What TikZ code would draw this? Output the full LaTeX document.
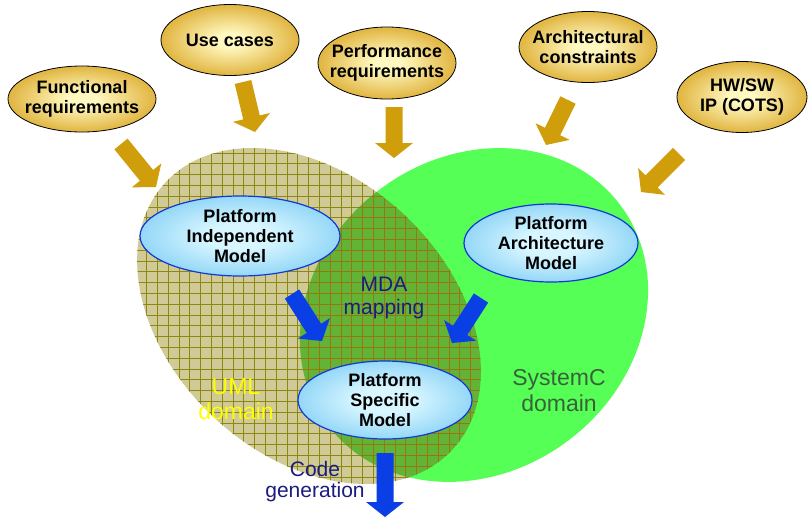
\documentclass[tikz,border=0pt]{standalone}
\usepackage{fontspec}
\setmainfont{Liberation Sans}
\usetikzlibrary{shapes.geometric,calc}
\definecolor{goldin}{HTML}{FFF8C0}
\definecolor{goldmid}{HTML}{E2B846}
\definecolor{goldout}{HTML}{B5840E}
\definecolor{bluein}{HTML}{D8F6FF}
\definecolor{bluemid}{HTML}{88D2F6}
\definecolor{blueout}{HTML}{48B4EC}
\definecolor{blueline}{HTML}{1438D8}
\definecolor{goldarrowc}{HTML}{D19E0B}
\definecolor{bluearrowc}{HTML}{0B3FE6}
\definecolor{khaki}{HTML}{CFCA96}
\definecolor{gridc}{HTML}{8E8812}
\definecolor{overlapgrid}{HTML}{98780E}
\definecolor{overlapc}{HTML}{62B336}
\definecolor{sysgreen}{HTML}{55FF55}
\definecolor{navytext}{HTML}{1C1C80}
\definecolor{sysctext}{HTML}{3A623A}
\definecolor{umltext}{HTML}{FFFF00}
\pgfdeclareradialshading{goldshade}{\pgfpoint{0bp}{0bp}}{color(0bp)=(goldin); color(5bp)=(goldin); color(24bp)=(goldmid); color(50bp)=(goldout); color(75bp)=(goldout)}
\pgfdeclareradialshading{blueshade}{\pgfpoint{0bp}{0bp}}{color(0bp)=(bluein); color(8bp)=(bluein); color(28bp)=(bluemid); color(50bp)=(blueout); color(75bp)=(blueout)}
\newcommand\blkarrow[3]{%
  \coordinate (bah) at ($(#3)!15pt!(#2)$);
  \fill[#1] ($(#2)!8.5pt!90:(#3)$) -- ($(bah)!8.5pt!90:(#3)$) -- ($(bah)!19pt!90:(#3)$) -- (#3)
     -- ($(bah)!19pt!-90:(#3)$) -- ($(bah)!8.5pt!-90:(#3)$) -- ($(#2)!8.5pt!-90:(#3)$) -- cycle;}
\tikzset{
  goldnode/.style={ellipse, draw=black, line width=0.8pt, shading=goldshade,
    inner sep=-12pt, minimum width=138pt, minimum height=71pt, align=center,
    font=\bfseries\fontsize{18}{20}\selectfont},
  bluenode/.style={ellipse, draw=blueline, line width=1.2pt, shading=blueshade,
    inner sep=-12pt, minimum width=174pt, minimum height=78pt, align=center,
    font=\bfseries\fontsize{18}{20}\selectfont},
  umlshape/.style={rotate around={-43:(309,316)}},
  sysshape/.style={rotate around={37:(474,315)}},
  gridline/.style={line width=0.6pt},
}
\newcommand\umlgrid[1]{%
  \foreach \i in {-4,...,32} {\draw[gridline, #1] (157.3+\i*10.8,120) -- (157.3+\i*10.8,517);}
  \foreach \j in {-16,...,22} {\draw[gridline, #1] (100,293.3+\j*10.8) -- (520,293.3+\j*10.8);}}
\begin{document}
\begin{tikzpicture}[x=1pt,y=-1pt]
\useasboundingbox (0,0) rectangle (808,517);
\fill[white] (0,0) rectangle (808,517);
% domains
\fill[khaki, umlshape] (309,316) ellipse [x radius=196, y radius=139];
\fill[sysgreen, sysshape] (474,315) ellipse [x radius=183, y radius=157];
\begin{scope}
  \clip[umlshape] (309,316) ellipse [x radius=196, y radius=139];
  \umlgrid{gridc}
  \clip[sysshape] (474,315) ellipse [x radius=183, y radius=157];
  \fill[overlapc] (250,100) rectangle (560,517);
  \umlgrid{overlapgrid}
\end{scope}
% gold inputs
\node[goldnode, minimum width=148pt, minimum height=66pt] (fr) at (82,99) {Functional\\requirements};
\node[goldnode] (uc) at (230,40) {Use cases};
\node[goldnode, minimum height=72pt] (pr) at (387,63) {Performance\\requirements};
\node[goldnode] (ac) at (588,47) {Architectural\\constraints};
\node[goldnode, minimum width=130pt] (hw) at (742,97) {HW/SW\\IP (COTS)};
\coordinate (fra) at (121,144); \coordinate (frb) at (156,187);
\coordinate (uca) at (243,82);  \coordinate (ucb) at (255,132);
\coordinate (pra) at (394,107); \coordinate (prb) at (394,158);
\coordinate (aca) at (568,100); \coordinate (acb) at (546,145);
\coordinate (hwa) at (679,154); \coordinate (hwb) at (641,192);
\blkarrow{goldarrowc}{fra}{frb}
\blkarrow{goldarrowc}{uca}{ucb}
\blkarrow{goldarrowc}{pra}{prb}
\blkarrow{goldarrowc}{aca}{acb}
\blkarrow{goldarrowc}{hwa}{hwb}
% labels
\node[text=navytext, align=center, font=\fontsize{21}{23}\selectfont] (mda) at (384,298) {MDA\\mapping};
\node[text=umltext, align=center, font=\fontsize{23}{25}\selectfont] (uml) at (236,399) {UML\\domain};
\node[text=sysctext, align=center, font=\fontsize{23}{26}\selectfont] (sysc) at (559,391) {SystemC\\domain};
\node[text=navytext, align=center, font=\fontsize{21}{21}\selectfont] (cg) at (315,482) {Code\\generation};
% models
\node[bluenode, minimum width=200pt, minimum height=80pt] (pim) at (240,236) {Platform\\Independent\\Model};
\node[bluenode] (pam) at (551,243) {Platform\\Architecture\\Model};
\node[bluenode] (psm) at (385,400) {Platform\\Specific\\Model};
% blue arrows
\coordinate (ma) at (292,294); \coordinate (mb) at (322,341);
\coordinate (na) at (481,298); \coordinate (nb) at (452,343);
\coordinate (ca) at (psm.south |- 0,453); \coordinate (cb) at (385,517);
\blkarrow{bluearrowc}{ma}{mb}
\blkarrow{bluearrowc}{na}{nb}
\blkarrow{bluearrowc}{ca}{cb}
\end{tikzpicture}
\end{document}
